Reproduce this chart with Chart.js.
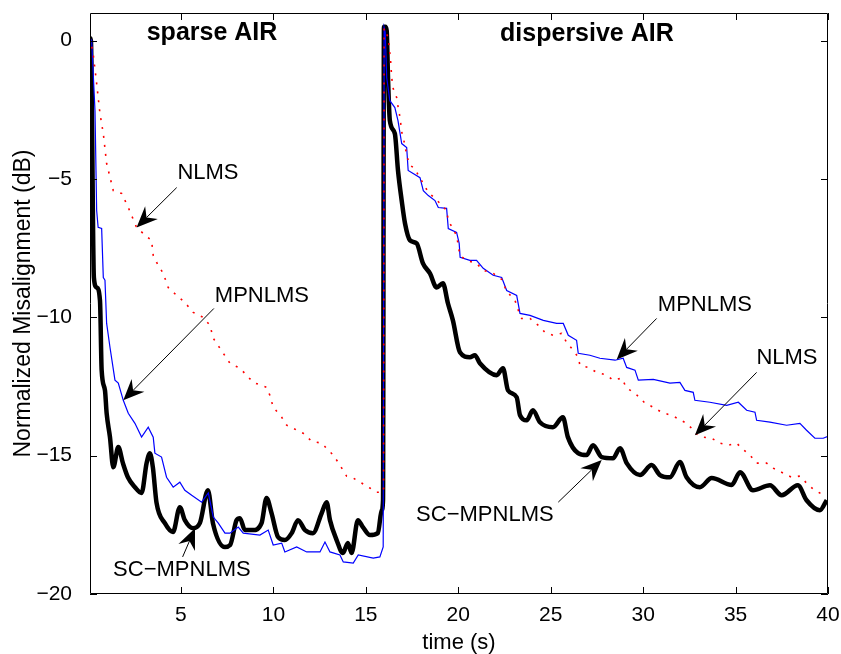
<!DOCTYPE html>
<html>
<head>
<meta charset="utf-8">
<script src="https://cdn.jsdelivr.net/npm/chart.js@4.4.1/dist/chart.umd.min.js"></script>
<style>
  body { margin: 0; background: #fff; }
  #wrap { width: 841px; height: 654px; }
</style>
</head>
<body>
<div id="wrap"><canvas id="myChart"></canvas></div>
<script>
// tick values
const xTicks = [5, 10, 15, 20, 25, 30, 35, 40];
const yTicks = [-20, -15, -10, -5, 0];

// SC-MPNLMS (thick black)
const scTime = [0.08, 0.13, 0.29, 0.44, 0.62, 0.71, 0.89, 0.98, 1.16, 1.34, 1.61, 1.86, 2.13, 2.51, 2.87, 3.14, 3.32, 3.48, 3.68, 4.13,
  4.57, 4.94, 5.21, 5.65, 6.02, 6.46, 6.73, 7.38, 7.66, 8.01, 8.19, 8.46, 8.89, 9.36, 9.63, 9.90, 10.25, 10.62, 10.99, 11.33,
  11.71, 12.14, 12.61, 12.88, 13.06, 13.42, 13.76, 14.03, 14.23, 14.57, 14.84, 15.22, 15.65, 15.86, 15.93, 15.98, 16.05, 16.13, 16.20, 16.30,
  16.57, 16.74, 16.94, 17.12, 17.39, 17.75, 18.09, 18.47, 18.83, 19.17, 19.44, 19.71, 20.09, 20.63, 20.90, 21.17, 22.08, 22.42, 22.69, 23.16,
  23.34, 23.70, 24.04, 24.42, 25.12, 25.66, 25.93, 26.48, 26.94, 27.29, 27.76, 28.37, 28.75, 29.11, 29.83, 30.46, 30.91, 31.45, 31.99, 32.35,
  33.07, 33.71, 34.79, 35.24, 35.94, 36.86, 37.49, 38.37, 38.84, 39.56, 39.93];
const scValues = [0.1, 0.0, -8.56, -8.92, -9.39, -11.91, -12.64, -13.47, -14.33, -15.42, -14.69, -15.27, -15.78, -16.14, -16.35, -15.27, -14.91, -15.42, -16.71, -17.44,
  -17.76, -16.86, -17.33, -17.62, -17.44, -16.25, -17.44, -18.30, -18.23, -17.33, -17.26, -17.69, -17.69, -17.44, -16.53, -17.08, -17.94, -18.05, -17.80, -17.33,
  -17.69, -17.80, -17.08, -16.68, -17.33, -18.05, -18.52, -18.16, -18.52, -17.33, -17.58, -17.87, -17.80, -16.97, -16.61, 0.5, 0.5, 0.36, -1.34, -2.89,
  -3.36, -4.69, -5.78, -6.61, -7.22, -7.33, -8.05, -8.41, -8.92, -8.77, -9.49, -10.11, -11.26, -11.44, -11.37, -11.66, -12.09, -11.84, -12.64, -12.89,
  -13.54, -13.72, -13.36, -13.79, -13.97, -13.61, -14.33, -14.91, -14.98, -14.62, -15.05, -15.09, -14.73, -15.27, -15.70, -15.34, -15.70, -15.78, -15.23, -15.78,
  -16.14, -15.81, -16.06, -15.60, -16.25, -16.07, -16.43, -16.07, -16.61, -16.97, -16.61];

// MPNLMS (thin blue)
const mpTime = [0.08, 0.17, 0.35, 0.44, 0.52, 0.71, 0.80, 0.89, 0.98, 1.16, 1.43, 1.61, 1.88, 2.15, 2.51, 2.87, 3.23, 3.50, 3.59, 3.95,
  4.22, 4.58, 4.94, 5.21, 5.58, 6.12, 6.48, 6.75, 7.02, 7.38, 7.65, 8.10, 8.37, 9.27, 9.72, 9.99, 10.45, 10.62, 11.26, 11.80,
  12.52, 12.79, 13.06, 13.60, 13.78, 14.32, 14.59, 15.40, 15.76, 15.94, 15.99, 16.05, 16.13, 16.30, 16.57, 16.74, 16.94, 17.21, 17.29, 17.56,
  17.93, 18.11, 18.38, 18.74, 18.92, 19.37, 19.46, 19.91, 20.05, 20.10, 20.63, 20.99, 21.35, 21.89, 22.35, 22.62, 23.16, 23.34, 23.88, 24.60,
  25.32, 25.68, 25.95, 26.40, 26.49, 27.12, 27.66, 28.48, 28.92, 29.11, 29.56, 29.74, 30.55, 31.45, 31.99, 32.26, 32.71, 32.80, 33.61, 34.52,
  35.15, 35.60, 36.05, 36.14, 36.86, 37.76, 38.48, 38.84, 39.29, 39.74, 40.00];
const mpValues = [0.1, 0.0, -2.53, -6.14, -6.75, -6.79, -8.56, -8.66, -10.22, -11.08, -12.27, -12.38, -13.00, -13.47, -13.83, -14.33, -13.97, -14.33, -14.91, -15.05,
  -15.78, -16.14, -15.96, -16.25, -16.43, -16.68, -16.35, -17.22, -17.44, -17.80, -17.80, -17.58, -17.80, -17.87, -17.69, -18.23, -18.16, -18.48, -18.30, -18.48,
  -18.48, -18.12, -18.48, -18.59, -18.84, -18.88, -18.59, -18.70, -18.66, -18.30, 0.47, 0.3, -1.34, -2.17, -2.42, -2.89, -3.72, -3.86, -4.69, -4.80,
  -4.95, -5.42, -5.60, -5.78, -6.03, -6.06, -6.79, -6.93, -7.33, -7.83, -7.94, -7.94, -8.23, -8.48, -8.56, -9.03, -9.21, -9.86, -9.93, -10.11,
  -10.22, -10.22, -10.65, -10.83, -11.30, -11.37, -11.48, -11.55, -11.48, -11.81, -11.91, -12.27, -12.24, -12.38, -12.35, -12.64, -12.71, -13.00, -13.07, -13.18,
  -13.07, -13.36, -13.43, -13.72, -13.79, -13.90, -13.83, -14.08, -14.37, -14.37, -14.30];

// NLMS (red dotted)
const nlTime = [0.08, 0.25, 0.44, 0.62, 0.80, 0.98, 1.34, 1.79, 2.15, 2.60, 2.96, 3.41, 3.50, 3.68, 4.04, 4.31, 4.77, 5.21, 5.66, 6.20,
  6.57, 6.75, 7.29, 7.65, 8.19, 8.55, 8.91, 9.63, 9.81, 9.99, 10.45, 10.72, 11.07, 11.61, 12.07, 12.61, 12.97, 13.24, 13.60, 13.96,
  14.32, 14.77, 15.22, 15.58, 15.86, 15.96, 15.99, 16.21, 16.34, 16.40, 16.48, 16.67, 16.75, 16.85, 16.94, 17.12, 17.21, 17.39, 17.66, 17.84,
  18.11, 18.38, 18.74, 19.01, 19.37, 19.46, 19.91, 20.09, 20.45, 20.99, 21.35, 21.89, 22.35, 22.62, 23.07, 23.25, 23.43, 23.88, 24.33, 24.69,
  25.14, 25.59, 25.86, 26.13, 26.49, 26.58, 27.03, 27.49, 28.03, 28.38, 28.84, 29.11, 29.56, 30.10, 30.55, 31.00, 31.63, 32.35, 32.62, 32.90,
  33.25, 33.71, 34.16, 34.60, 35.06, 35.33, 35.78, 36.14, 36.68, 37.04, 37.58, 38.03, 38.48, 38.84, 39.20, 39.56, 39.93];
const nlValues = [0.1, -0.47, -1.55, -2.64, -3.36, -4.44, -5.42, -5.52, -6.03, -6.75, -6.97, -7.22, -7.76, -8.01, -8.41, -8.92, -9.21, -9.46, -9.82, -10.00,
  -10.29, -10.76, -11.30, -11.66, -11.84, -12.09, -12.35, -12.53, -12.82, -13.25, -13.61, -13.90, -14.01, -14.19, -14.48, -14.55, -14.80, -14.98, -15.34, -15.74,
  -15.81, -15.99, -16.17, -16.32, -16.32, -16.30, 0.45, 0.11, -0.72, -1.34, -1.73, -2.06, -2.42, -2.78, -3.29, -3.79, -4.15, -4.51, -4.62, -4.87,
  -5.16, -5.49, -5.70, -5.88, -6.14, -6.50, -7.04, -7.76, -7.94, -8.05, -8.30, -8.41, -8.63, -9.06, -9.39, -9.75, -10.04, -10.04, -10.29, -10.54,
  -10.65, -10.58, -10.90, -11.12, -11.44, -11.73, -11.81, -11.99, -12.09, -12.27, -12.20, -12.56, -12.74, -13.10, -13.25, -13.43, -13.57, -13.83, -14.01, -14.22,
  -14.33, -14.37, -14.55, -14.62, -14.55, -14.73, -14.98, -15.27, -15.27, -15.45, -15.63, -15.78, -15.74, -15.99, -16.21, -16.35, -16.45];

// text labels and arrows, in data units: [label, textX, textY, tailX, tailY, tipX, tipY]
const arrowNotes = [
  ['NLMS', 6.46, -4.77, 4.77, -5.31, 2.60, -6.75],
  ['MPNLMS', 9.38, -9.21, 6.78, -9.68, 1.88, -13.0],
  ['SC\u2212MPNLMS', 5.05, -19.13, 5.09, -18.66, 5.76, -17.62],
  ['MPNLMS', 33.34, -9.57, 30.73, -10.04, 28.57, -11.52],
  ['NLMS', 37.78, -11.48, 36.14, -11.99, 32.80, -14.26],
  ['SC\u2212MPNLMS', 21.44, -17.15, 25.41, -16.68, 27.76, -15.16]
];
const panelTitles = [['sparse AIR', 6.68, 0.29], ['dispersive AIR', 26.96, 0.25]];

const FONT = "'Liberation Sans', Arial, Helvetica, sans-serif";
Chart.defaults.font.family = FONT;
Chart.defaults.color = '#000';

function toPoints(xs, ys) {
  return xs.map((x, i) => ({ x: x, y: ys[i] }));
}

// matlab style box with inward ticks, plus the annotations
const matlabAxes = {
  id: 'matlabAxes',
  afterDatasetsDraw(chart) {
    const ctx = chart.ctx;
    const { left, right, top, bottom } = chart.chartArea;
    const xs = chart.scales.x, ys = chart.scales.y;
    const tl = 7;
    ctx.save();
    ctx.strokeStyle = '#000';
    ctx.lineWidth = 1;
    ctx.beginPath();
    ctx.rect(left + 0.5, top + 0.5, right - left - 1, bottom - top - 1);
    xTicks.forEach(v => {
      const px = Math.round(xs.getPixelForValue(v)) + 0.5;
      ctx.moveTo(px, bottom); ctx.lineTo(px, bottom - tl);
      ctx.moveTo(px, top); ctx.lineTo(px, top + tl);
    });
    yTicks.forEach(v => {
      const py = Math.round(ys.getPixelForValue(v)) + 0.5;
      ctx.moveTo(left, py); ctx.lineTo(left + tl, py);
      ctx.moveTo(right, py); ctx.lineTo(right - tl, py);
    });
    ctx.stroke();

    ctx.fillStyle = '#000';
    ctx.textAlign = 'center';
    ctx.textBaseline = 'middle';
    ctx.font = 'bold 25px ' + FONT;
    panelTitles.forEach(t => {
      ctx.fillText(t[0], xs.getPixelForValue(t[1]), ys.getPixelForValue(t[2]));
    });

    ctx.font = '22px ' + FONT;
    arrowNotes.forEach(a => {
      ctx.fillText(a[0], xs.getPixelForValue(a[1]), ys.getPixelForValue(a[2]));
      const x0 = xs.getPixelForValue(a[3]), y0 = ys.getPixelForValue(a[4]);
      const x1 = xs.getPixelForValue(a[5]), y1 = ys.getPixelForValue(a[6]);
      const ang = Math.atan2(y1 - y0, x1 - x0);
      const L = 21, W = 9, notch = 14;
      const c = Math.cos(ang), s = Math.sin(ang);
      const bx = x1 - c * L, by = y1 - s * L;
      const nx = x1 - c * notch, ny = y1 - s * notch;
      ctx.beginPath();
      ctx.lineWidth = 1;
      ctx.moveTo(x0, y0); ctx.lineTo(nx, ny);
      ctx.stroke();
      ctx.beginPath();
      ctx.moveTo(x1, y1);
      ctx.lineTo(bx - s * W, by + c * W);
      ctx.lineTo(nx, ny);
      ctx.lineTo(bx + s * W, by - c * W);
      ctx.closePath();
      ctx.fill();
    });
    ctx.restore();
  }
};

new Chart('myChart', {
  type: 'line',
  data: {
    datasets: [
      {
        label: 'NLMS',
        data: toPoints(nlTime, nlValues),
        borderColor: '#ff0000',
        borderWidth: 1.6,
        borderDash: [2, 7],
        pointRadius: 0,
        tension: 0,
        order: 0,
      },
      {
        label: 'MPNLMS',
        data: toPoints(mpTime, mpValues),
        borderColor: '#0000ff',
        borderWidth: 1.2,
        pointRadius: 0,
        tension: 0,
        order: 1,
      },
      {
        label: 'SC-MPNLMS',
        data: toPoints(scTime, scValues),
        borderColor: '#000000',
        borderWidth: 4.5,
        pointRadius: 0,
        cubicInterpolationMode: 'monotone',
        order: 2,
      },
    ],
  },
  options: {
    responsive: true,
    maintainAspectRatio: false,
    animation: false,
    layout: { padding: { top: 13, right: 13, left: 0, bottom: 0 } },
    plugins: { legend: { display: false }, tooltip: { enabled: false } },
    scales: {
      x: {
        type: 'linear',
        min: 0.08,
        max: 40,
        afterBuildTicks: s => { s.ticks = xTicks.map(v => ({ value: v })); },
        afterFit: s => { s.height = 60; s.paddingLeft = 0; s.paddingRight = 0; },
        grid: { display: false },
        border: { display: false },
        ticks: { padding: 1, font: { size: 21 }, maxRotation: 0, autoSkip: false },
        title: { display: true, text: 'time (s)', font: { size: 22, lineHeight: 1 }, padding: 0 },
      },
      y: {
        min: -20,
        max: 1,
        afterBuildTicks: s => { s.ticks = yTicks.map(v => ({ value: v })); },
        afterFit: s => { s.width = 90; s.paddingTop = 0; s.paddingBottom = 0; },
        grid: { display: false },
        border: { display: false },
        ticks: {
          padding: 10,
          font: { size: 21 },
          callback: v => String(v).replace('-', '\u2212'),
        },
        title: { display: true, text: 'Normalized Misalignment (dB)', font: { size: 23, lineHeight: 1 }, padding: { top: 12 } },
      },
    },
  },
  plugins: [matlabAxes],
});
</script>
</body>
</html>
